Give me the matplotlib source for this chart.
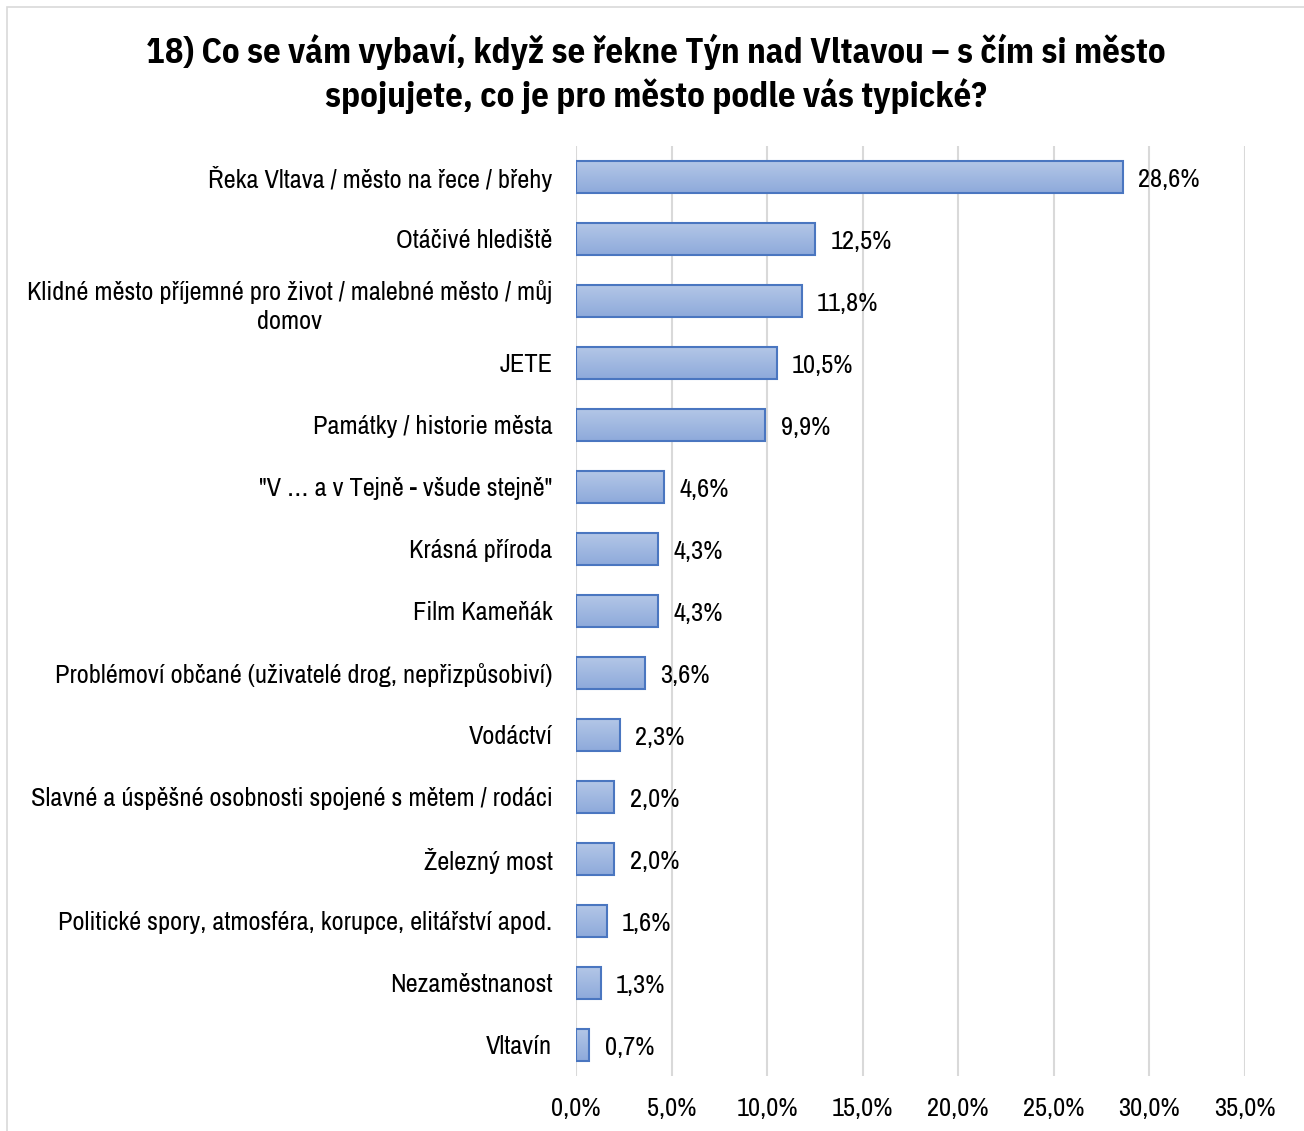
import numpy as np
import matplotlib
matplotlib.use("Agg")
import matplotlib.pyplot as plt
from matplotlib.patches import Rectangle
from matplotlib.colors import LinearSegmentedColormap

# data
categories = [
    "Řeka Vltava / město na řece / břehy",
    "Otáčivé hlediště",
    "Klidné město příjemné pro život / malebné město / můj\ndomov",
    "JETE",
    "Památky / historie města",
    "\"V … a v Tejně - všude stejně\"",
    "Krásná příroda",
    "Film Kameňák",
    "Problémoví občané (uživatelé drog, nepřizpůsobiví)",
    "Vodáctví",
    "Slavné a úspěšné osobnosti spojené s mětem / rodáci",
    "Železný most",
    "Politické spory, atmosféra, korupce, elitářství apod.",
    "Nezaměstnanost",
    "Vltavín",
]
values = [28.6, 12.5, 11.8, 10.5, 9.9, 4.6, 4.3, 4.3, 3.6, 2.3, 2.0, 2.0, 1.6, 1.3, 0.7]
xticks = [0, 5, 10, 15, 20, 25, 30, 35]
title_lines = ["18) Co se vám vybaví, když se řekne Týn nad Vltavou – s čím si město",
               "spojujete, co je pro město podle vás typické?"]

plt.rcParams['font.family'] = ['Archivo Narrow', 'Roboto Condensed', 'DejaVu Sans']
title_font = ['IBM Plex Sans Condensed', 'Fira Sans Condensed', 'DejaVu Sans']

fig = plt.figure(figsize=(13.04, 11.31), dpi=100)
ax = fig.add_axes([576/1304, 1 - 1076/1131, (1245-576)/1304, (1076-146)/1131])

# chart border
fig.patches.append(Rectangle((7/1304, -0.01), 1.02, 1 - 7/1131 + 0.01, transform=fig.transFigure,
                             fill=False, edgecolor='#d9d9d9', linewidth=1.2))

# lighter on top, darker at the bottom
grad = LinearSegmentedColormap.from_list('g', ['#b4c7e7', '#8eaadb'])
h = 0.52
n = len(values)
for i, v in enumerate(values):
    y = i
    img = np.linspace(0, 1, 50).reshape(-1, 1)
    ax.imshow(img, cmap=grad, extent=[0, v, y + h/2, y - h/2], aspect='auto',
              origin='upper', zorder=2, interpolation='bilinear')
    ax.add_patch(Rectangle((0, y - h/2), v, h, fill=False, edgecolor='#4a76c0',
                           linewidth=1.5, zorder=3))
    ax.text(v + 0.8, y, ("%.1f%%" % v).replace('.', ','), va='center_baseline', ha='left',
            fontsize=19, zorder=4)

ax.set_xlim(0, 35)
ax.set_ylim(n - 0.5, -0.5)
ax.set_xticks(xticks)
ax.set_xticklabels([("%.1f%%" % t).replace('.', ',') for t in xticks], fontsize=19)
ax.set_yticks(range(n))
ax.set_yticklabels(categories, fontsize=19, multialignment='center')
for lab in ax.get_yticklabels():
    lab.set_linespacing(1.35)
ax.tick_params(axis='both', length=0)
ax.tick_params(axis='x', pad=15)
ax.tick_params(axis='y', pad=17)
ax.grid(axis='x', color='#d9d9d9', linewidth=1.5, zorder=0)
ax.set_axisbelow(True)
for s in ax.spines.values():
    s.set_visible(False)

for k, line in enumerate(title_lines):
    fig.text(656/1304, 1 - (48 + 45 * k)/1131, line, ha='center', va='center_baseline',
             fontsize=25, fontweight='bold', family=title_font)

fig.savefig('out.png', dpi=100)
